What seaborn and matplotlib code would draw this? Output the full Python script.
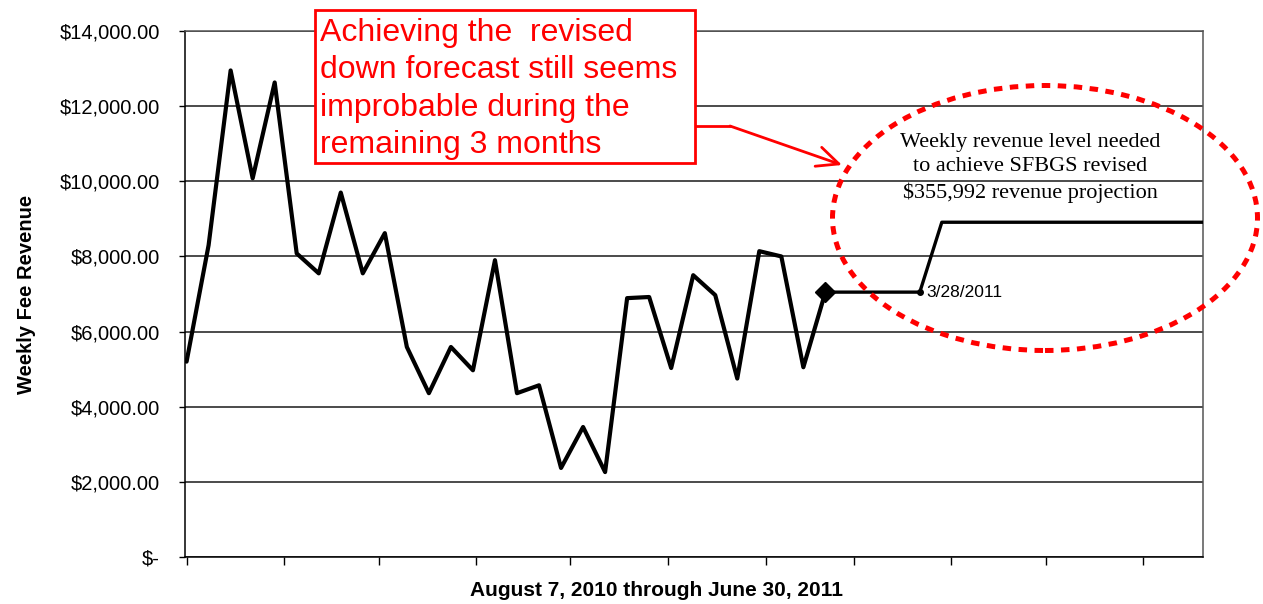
import numpy as np
import pandas as pd
import matplotlib
matplotlib.use("Agg")
import matplotlib.pyplot as plt
import matplotlib.dates as mdates
from matplotlib.ticker import FuncFormatter
from matplotlib.patches import Ellipse, Rectangle
from matplotlib.lines import Line2D
import seaborn as sns

# weekly fee revenue, Aug 7 2010 onward (one value per week)
week_start = "2010-08-07"
weekly_revenue = [5200, 8300, 12950, 10080, 12630, 8080, 7550, 9700, 7550, 8620,
                  5590, 4360, 5590, 4970, 7900, 4360, 4570, 2370, 3460, 2260,
                  6890, 6920, 5030, 7500, 6970, 4750, 8140, 8000, 5050, 7050]

# level needed to reach the revised projection
proj_dates = ["2011-02-26", "2011-03-28", "2011-04-04", "2011-06-30"]
proj_values = [7050, 7050, 8910, 8910]

marker_label = "3/28/2011"
y_ticks = [0, 2000, 4000, 6000, 8000, 10000, 12000, 14000]
x_title = "August 7, 2010 through June 30, 2011"
y_title = "Weekly Fee Revenue"
red_note = "Achieving the  revised\ndown forecast still seems\nimprobable during the\nremaining 3 months"
ellipse_note = "Weekly revenue level needed\nto achieve SFBGS revised\n$355,992 revenue projection"

W, H = 1263, 604

sns.set_theme(style="white")
plt.rcParams['font.family'] = ['Liberation Sans', 'DejaVu Sans']
plt.rcParams['text.color'] = 'black'
plt.rcParams['axes.labelcolor'] = 'black'
plt.rcParams['xtick.color'] = 'black'
plt.rcParams['ytick.color'] = 'black'

actual = pd.DataFrame({
    "date": pd.date_range(week_start, periods=len(weekly_revenue), freq="7D"),
    "revenue": weekly_revenue,
})
proj = pd.DataFrame({"date": pd.to_datetime(proj_dates), "revenue": proj_values})

fig = plt.figure(figsize=(W / 100, H / 100), dpi=100)
ax = fig.add_axes([185 / W, 1 - 557 / H, (1203 - 185) / W, (557 - 31) / H])

def px(x, y):
    # figure pixel (from top-left) -> figure fraction
    return x / W, 1 - y / H

# gridlines
for v in y_ticks:
    ax.axhline(v, color="#1a1a1a", lw=1.1, zorder=1)

sns.lineplot(data=actual, x="date", y="revenue", ax=ax, color="black", lw=3.0, zorder=3)
sns.lineplot(data=proj, x="date", y="revenue", ax=ax, color="black", lw=2.4, zorder=3)
ax.plot(actual["date"].iloc[-1], actual["revenue"].iloc[-1], marker="D", ms=10,
        color="black", zorder=4)
ax.plot(proj["date"].iloc[1], proj["revenue"].iloc[1], marker="o", ms=4,
        color="black", zorder=4)
ax.annotate(marker_label, (proj["date"].iloc[1], proj["revenue"].iloc[1]),
            xytext=(5, 0), textcoords="offset points", va="center", ha="left",
            fontsize=12.5, color="black")

ax.set_xlim(pd.Timestamp("2010-08-06 12:00"), pd.Timestamp("2011-06-26"))
ax.set_ylim(0, 14000)
ax.set_yticks(y_ticks)
ax.yaxis.set_major_formatter(FuncFormatter(lambda v, p: "$-" if v == 0 else f"${v:,.2f}"))
ax.xaxis.set_major_locator(mdates.MonthLocator(bymonthday=7))
ax.xaxis.set_major_formatter(FuncFormatter(lambda v, p: ""))
ax.tick_params(axis="y", which="major", direction="out", length=4, width=1,
               pad=14, labelsize=14.5, left=True)
ax.tick_params(axis="x", which="major", direction="out", length=6, width=1, bottom=True)
for s in ax.spines.values():
    s.set_color("black")
    s.set_linewidth(1.1)
ax.spines["right"].set_color("#555555")
ax.spines["top"].set_color("#555555")

ax.set_ylabel(y_title, fontsize=14.5, fontweight="bold", labelpad=17)
ax.set_xlabel("")
fig.text(*px(657, 590), x_title, fontsize=15, fontweight="bold", ha="center", va="center")

# red call-out box
bx0, by0 = px(315, 163)
bx1, by1 = px(695, 10)
fig.patches.append(Rectangle((bx0, by0), bx1 - bx0, by1 - by0, transform=fig.transFigure,
                             facecolor="white", edgecolor="red", lw=2, zorder=5))
fig.text(*px(320, 18), red_note, color="red", fontsize=23, ha="left", va="top",
         linespacing=1.32, zorder=6)
fig.lines.append(Line2D([695 / W, 730 / W], [1 - 126 / H, 1 - 126 / H],
                        transform=fig.transFigure, color="red", lw=2))
ax.annotate("", xy=px(842, 165), xytext=px(730, 126), xycoords="figure fraction",
            textcoords="figure fraction",
            arrowprops=dict(arrowstyle="->,head_length=1.3,head_width=0.6", color="red", lw=2,
                            shrinkA=0, shrinkB=0))

# dashed ellipse
ec = px(1045, 218)
fig.patches.append(Ellipse(ec, 425 / W, 265 / H, transform=fig.transFigure, fill=False,
                           edgecolor="red", lw=3.6, linestyle=(0, (1.7, 1.5)), zorder=5))
fig.text(*px(1030, 168), ellipse_note, family=["Liberation Serif", "DejaVu Serif"],
         fontsize=16, ha="center", va="center", linespacing=1.42, color="black")

fig.savefig("out.png", dpi=100, facecolor="white")
